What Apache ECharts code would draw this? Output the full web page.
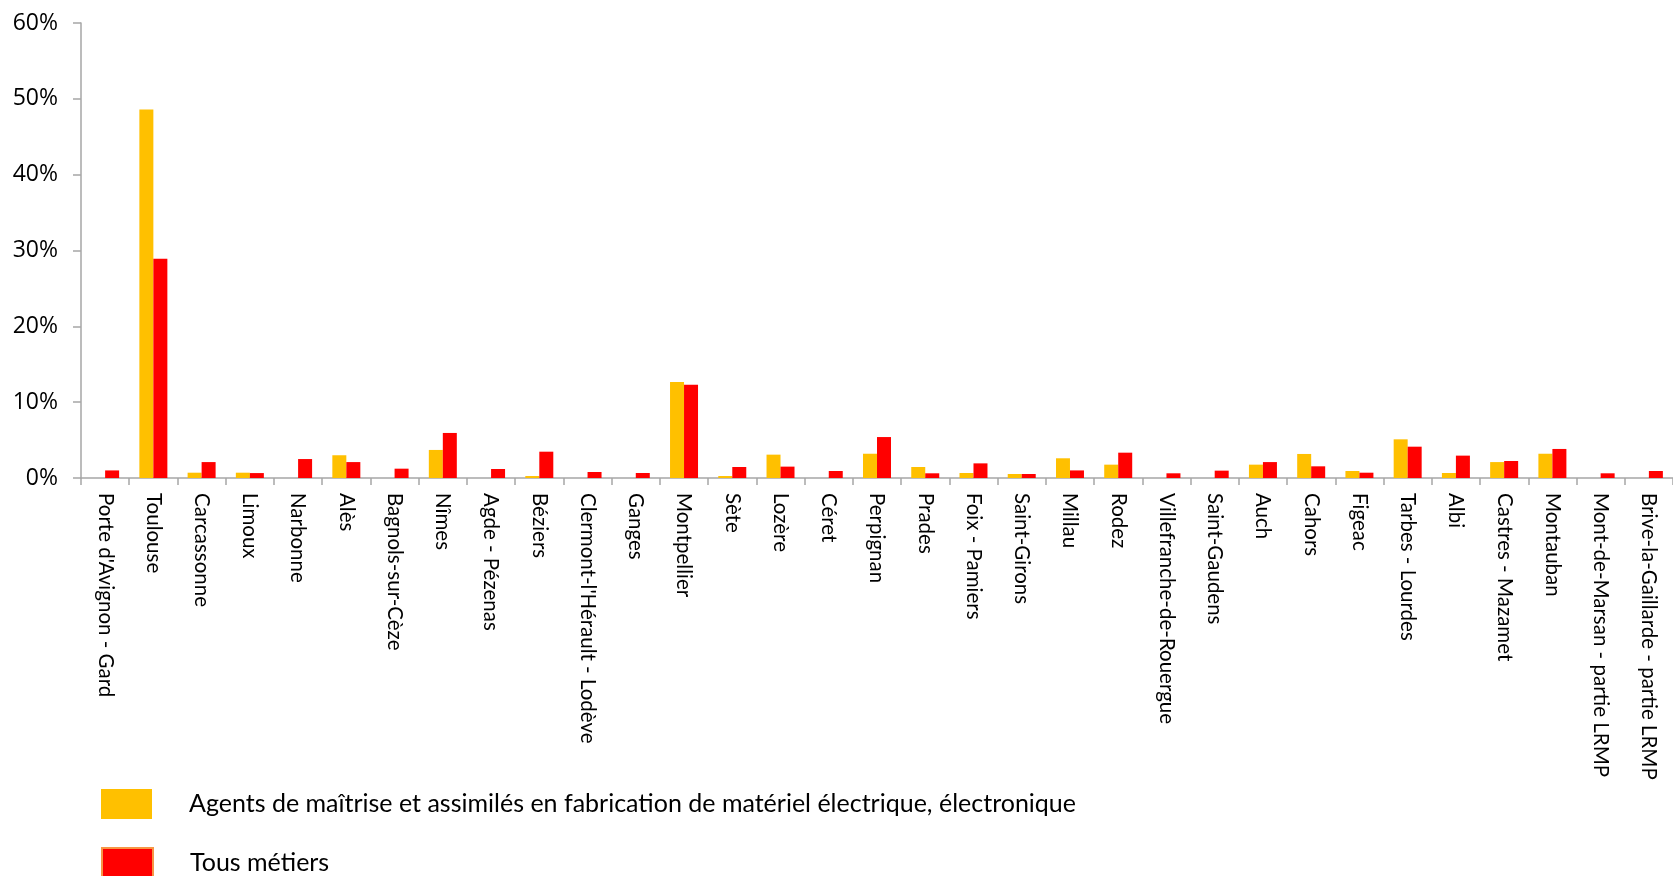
<!DOCTYPE html>
<html>
<head>
<meta charset="utf-8">
<script src="https://cdn.jsdelivr.net/npm/echarts@6/dist/echarts.min.js"></script>
<style>
html,body{margin:0;padding:0;background:#fff;}
#chart{width:1673px;height:876px;}
</style>
</head>
<body>
<div id="chart"></div>
<script>
var categories = ["Porte d'Avignon - Gard","Toulouse","Carcassonne","Limoux","Narbonne","Alès","Bagnols-sur-Cèze","Nîmes","Agde - Pézenas","Béziers","Clermont-l'Hérault - Lodève","Ganges","Montpellier","Sète","Lozère","Céret","Perpignan","Prades","Foix - Pamiers","Saint-Girons","Millau","Rodez","Villefranche-de-Rouergue","Saint-Gaudens","Auch","Cahors","Figeac","Tarbes - Lourdes","Albi","Castres - Mazamet","Montauban","Mont-de-Marsan - partie LRMP","Brive-la-Gaillarde - partie LRMP"];
var agents = [0,48.6,0.7,0.7,0,3.0,0,3.7,0,0.26,0,0,12.66,0.26,3.08,0,3.2,1.45,0.66,0.53,2.6,1.76,0,0,1.76,3.17,0.92,5.1,0.66,2.1,3.2,0,0];
var tous = [1.0,28.9,2.1,0.65,2.5,2.1,1.23,5.94,1.19,3.47,0.79,0.66,12.31,1.45,1.5,0.92,5.4,0.62,1.93,0.53,1.0,3.34,0.62,0.97,2.1,1.54,0.7,4.13,2.95,2.24,3.83,0.62,0.92];
var seriesNames = ["Agents de maîtrise et assimilés en fabrication de matériel électrique, électronique","Tous métiers"];
var yTicks = [0,10,20,30,40,50,60];

function legendFor(name, top, border){
  return {
    orient:'vertical',left:101,top:top,padding:0,itemWidth:51,itemHeight:30,
    icon:'rect',
    itemStyle: border ? {borderColor:'#F79646',borderWidth:2} : {},
    textStyle:{fontFamily:'Lato',fontSize:25,color:'#000',padding:[0,0,0,32]},
    data:[name]
  };
}

var chart = echarts.init(document.getElementById('chart'));
chart.setOption({
  animation:false,
  backgroundColor:'#fff',
  grid:{left:81,right:-7,top:23,bottom:398,containLabel:false},
  legend:[legendFor(seriesNames[0],789,false),legendFor(seriesNames[1],847,true)],
  xAxis:{
    type:'category',data:categories,
    axisLine:{lineStyle:{color:'#a6a6a6',width:1.5}},
    axisTick:{show:true,length:7,lineStyle:{color:'#a6a6a6',width:1.5}},
    axisLabel:{rotate:-90,interval:0,margin:15,fontFamily:'Lato',fontSize:20.5,color:'#000'}
  },
  yAxis:{
    type:'value',min:yTicks[0],max:yTicks[yTicks.length-1],interval:10,
    axisLine:{show:true,lineStyle:{color:'#a6a6a6',width:1.5}},
    axisTick:{show:true,length:8,lineStyle:{color:'#a6a6a6',width:1.5}},
    splitLine:{show:false},
    axisLabel:{formatter:'{value}%',margin:23,fontFamily:'Open Sans',fontSize:23,color:'#000'}
  },
  series:[
    {name:seriesNames[0],type:'bar',data:agents,barWidth:14,barGap:'0%',
     itemStyle:{color:'#FFC000'}},
    {name:seriesNames[1],type:'bar',data:tous,barWidth:14,barGap:'0%',
     itemStyle:{color:'#FF0000'}}
  ]
});
</script>
</body>
</html>
